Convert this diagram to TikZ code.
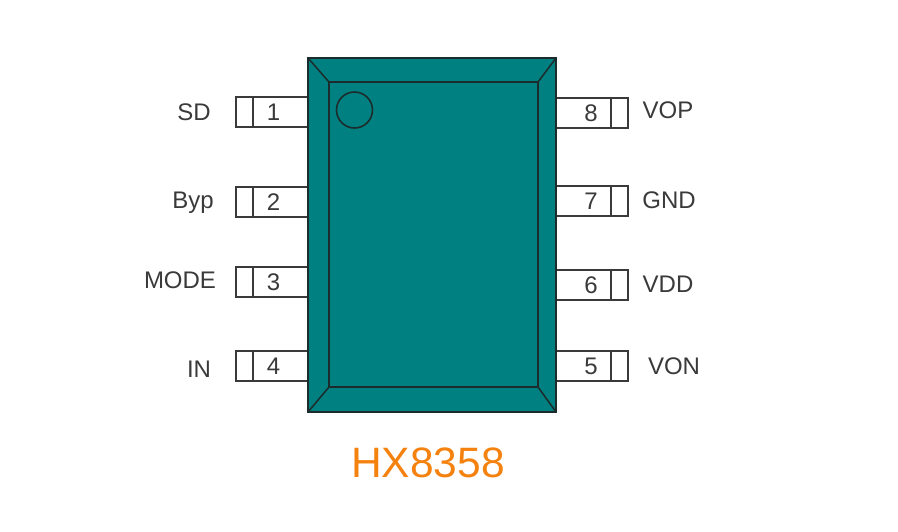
\documentclass[tikz,border=0pt]{standalone}
\usepackage{fontspec}
\setmainfont{Liberation Sans}
\definecolor{chipteal}{HTML}{008080}
\definecolor{ink}{HTML}{1C2B2B}
\definecolor{labelgray}{HTML}{3A3A3A}
\definecolor{titleorange}{HTML}{F5820F}
\tikzset{
  edge/.style={draw=ink,line width=1.6pt,line join=miter},
  thin edge/.style={draw=ink,line width=1.5pt},
  pinbox/.style={draw=labelgray,line width=1.1pt,fill=white},
  pinnum/.style={text=labelgray,font=\fontsize{24}{24}\selectfont,inner sep=0pt},
  pinlabel/.style={text=labelgray,font=\fontsize{24}{24}\selectfont,inner sep=0pt},
}
\begin{document}
\begin{tikzpicture}[x=1pt,y=-1pt]
\useasboundingbox (0,0) rectangle (898,531);
\fill[white] (0,0) rectangle (898,531);
\foreach \yy/\n/\lab/\lx/\ly in {97/1/SD/194/112,187/2/Byp/193/203,267/3/MODE/180/280,351/4/IN/199/369}{
  \draw[pinbox] (308,\yy) -- (236,\yy) -- (236,\yy+30) -- (308,\yy+30);
  \draw[pinbox] (253,\yy) -- (253,\yy+30);
  \node[pinnum] (pin\n) at (273.5,\yy+15.5) {\n};
  \node[pinlabel] (lab\n) at (\lx,\ly) {\lab};
}
\foreach \yy/\n/\lab/\lx/\ly in {98/8/VOP/668/110,186/7/GND/669/200,270/6/VDD/668/284,351/5/VON/674/366}{
  \draw[pinbox] (556,\yy) -- (628,\yy) -- (628,\yy+30) -- (556,\yy+30);
  \draw[pinbox] (611,\yy) -- (611,\yy+30);
  \node[pinnum] (pin\n) at (591,\yy+15) {\n};
  \node[pinlabel] (lab\n) at (\lx,\ly) {\lab};
}
\path[fill=chipteal,edge] (308,58) rectangle (556,412);
\draw[thin edge] (308,58) -- (329,82) (556,58) -- (538,82) (308,412) -- (329,387) (556,412) -- (538,387);
\path[fill=chipteal,edge,line width=2.2pt] (329,82) rectangle (538,387);
\draw[thin edge,line width=1.6pt] (354.5,110) circle (18);
\node[text=titleorange,font=\fontsize{42.5}{43}\selectfont,inner sep=0pt] (title) at (428,463) {HX8358};
\end{tikzpicture}
\end{document}
